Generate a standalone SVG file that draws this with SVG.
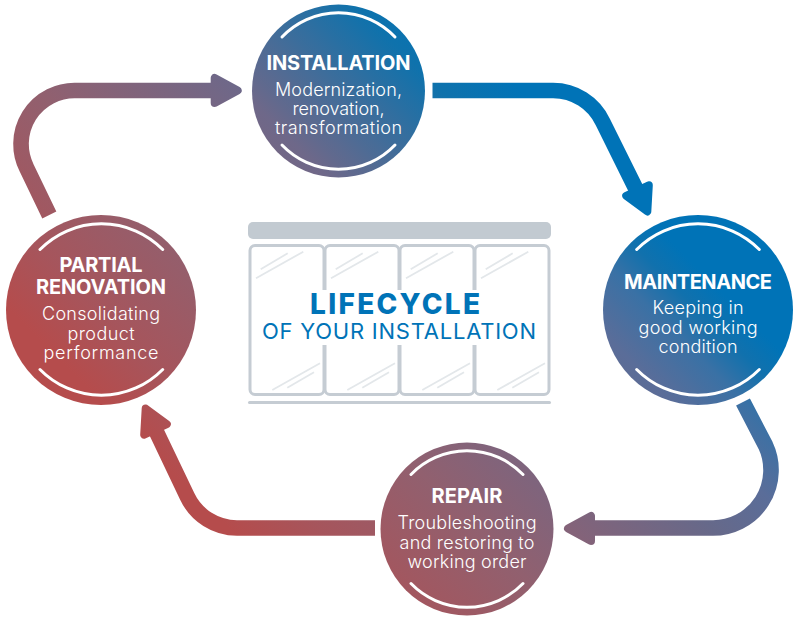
<svg xmlns="http://www.w3.org/2000/svg" width="800" height="620" viewBox="0 0 800 620">
<style>
.disc{fill:url(#g)}
.disc2{fill:url(#g2)}
.arc{fill:none;stroke:#fff;stroke-width:3;stroke-linecap:round}
.line{fill:none;stroke:url(#g);stroke-width:15.6}
.line2{fill:none;stroke:url(#g2);stroke-width:15.6}
.head{fill:url(#g);stroke:url(#g);stroke-width:8;stroke-linejoin:round}
.head2{fill:url(#g2);stroke:url(#g2);stroke-width:8;stroke-linejoin:round}
text{font-family:Inter,Lato,"Liberation Sans",sans-serif;fill:#fff;text-anchor:middle}
.t{font-size:20px;font-weight:700}
.s{font-size:18px;font-weight:300}
.frame{fill:none;stroke:#c5ccd3;stroke-width:3}
.glass{stroke:#e3e7ea;stroke-width:1.8;fill:none}
.big{fill:#0073b7;font-size:28px;font-weight:800}
.sub{fill:#0073b7;font-size:22px;font-weight:400}
</style>
<defs>
<linearGradient id="g" gradientUnits="userSpaceOnUse" x1="205" y1="505" x2="570" y2="140">
<stop offset="0" stop-color="#b54c4c"/>
<stop offset="0.125" stop-color="#a6555c"/>
<stop offset="0.34" stop-color="#91606f"/>
<stop offset="0.616" stop-color="#6e6889"/>
<stop offset="0.89" stop-color="#0f72ac"/>
<stop offset="1" stop-color="#0073b7"/>
</linearGradient>
<linearGradient id="g2" gradientUnits="userSpaceOnUse" x1="205" y1="505" x2="570" y2="140">
<stop offset="0.468" stop-color="#846379"/>
<stop offset="0.664" stop-color="#66698a"/>
<stop offset="0.781" stop-color="#5a6d99"/>
<stop offset="0.879" stop-color="#3a71a5"/>
<stop offset="0.943" stop-color="#1171ad"/>
<stop offset="1" stop-color="#0073b7"/>
</linearGradient>
</defs>
<rect width="800" height="620" fill="#fff"/>
<g id="window">
<rect x="248" y="222" width="303" height="17" rx="5" fill="#c2cad1"/>
<rect class="frame" x="250" y="245.5" width="74" height="149" rx="5"/>
<rect class="frame" x="325" y="245.5" width="74" height="149" rx="5"/>
<rect class="frame" x="400" y="245.5" width="74" height="149" rx="5"/>
<rect class="frame" x="475" y="245.5" width="74" height="149" rx="5"/>
<path class="glass" d="M260.7 269.3L287.7 253.3M256 278.3L303.3 251.7M272.3 390L320 363.3M287.3 387.7L314 372.3"/>
<path class="glass" d="M335.7 269.3L362.7 253.3M331 278.3L378.3 251.7M347.3 390L395 363.3M362.3 387.7L389 372.3"/>
<path class="glass" d="M410.7 269.3L437.7 253.3M406 278.3L453.3 251.7M422.3 390L470 363.3M437.3 387.7L464 372.3"/>
<path class="glass" d="M485.7 269.3L512.7 253.3M481 278.3L528.3 251.7M497.3 390L545 363.3M512.3 387.7L539 372.3"/>
<rect x="262" y="290" width="276" height="55" fill="#fff"/>
<rect x="248" y="401" width="303" height="3" rx="1.5" fill="#c5ccd3"/>
<text class="big" x="395" y="313.5" textLength="170">LIFECYCLE</text>
<text class="sub" x="399" y="339" textLength="274">OF YOUR INSTALLATION</text>
</g>
<g id="connectors">
<path class="line" d="M432.5 90.5H553A55 55 0 0 1 602.8 122L637.5 192"/>
<polygon class="head" points="648.8,185.3 626.2,195.9 647.3,211.4"/>
<path class="line2" d="M743 402L765.5 445.3A58 58 0 0 1 713 528H590"/>
<polygon class="head2" points="591,516 591,541 568,528.5"/>
<path class="line" d="M375 528H237A55 55 0 0 1 187.2 496.4L156 431"/>
<polygon class="head" points="166.8,424.1 144.2,434.7 145.7,408.6"/>
<path class="line" d="M49.3 215L26.6 167.8A53.5 53.5 0 0 1 75 90.5H216"/>
<polygon class="head" points="214.7,78 214.7,103 237.7,90.5"/>
</g>
<g id="installation">
<circle class="disc" cx="338.5" cy="91" r="86.5"/>
<path class="arc" d="M282 37A78 78 0 0 1 395 37M282 145A78 78 0 0 0 395 145"/>
<text class="t" x="338.5" y="69.5" textLength="144">INSTALLATION</text>
<text class="s" x="338.5" y="96" textLength="127">Modernization,</text>
<text class="s" x="338.5" y="115" textLength="92">renovation,</text>
<text class="s" x="338.5" y="134" textLength="127">transformation</text>
</g>
<g id="maintenance">
<circle class="disc2" cx="698" cy="310" r="95"/>
<path class="arc" d="M636.700 249.500A86 86 0 0 1 759.300 249.500M636.700 369.500A86 86 0 0 0 759.300 369.500"/>
<text class="t" x="698" y="288.500" textLength="148">MAINTENANCE</text>
<text class="s" x="698" y="314" textLength="91">Keeping in</text>
<text class="s" x="698" y="333.500" textLength="119">good working</text>
<text class="s" x="698" y="352.700" textLength="79">condition</text>
</g>
<g id="repair">
<circle class="disc" cx="467" cy="529" r="86.5"/>
<path class="arc" d="M411 474.500A78 78 0 0 1 523 474.500M411 583.500A78 78 0 0 0 523 583.500"/>
<text class="t" x="467" y="503" textLength="71">REPAIR</text>
<text class="s" x="467" y="529" textLength="139">Troubleshooting</text>
<text class="s" x="467" y="549" textLength="135">and restoring to</text>
<text class="s" x="467" y="568" textLength="119">working order</text>
</g>
<g id="partial-renovation">
<circle class="disc" cx="101" cy="310" r="95"/>
<path class="arc" d="M40 249.500A86 86 0 0 1 162.700 249.500M40 369.500A86 86 0 0 0 162.700 369.500"/>
<text class="t" x="101" y="272.300" textLength="83">PARTIAL</text>
<text class="t" x="101" y="294.300" textLength="130">RENOVATION</text>
<text class="s" x="101" y="320" textLength="118">Consolidating</text>
<text class="s" x="101" y="340" textLength="67">product</text>
<text class="s" x="101" y="359" textLength="115">performance</text>
</g>
</svg>
